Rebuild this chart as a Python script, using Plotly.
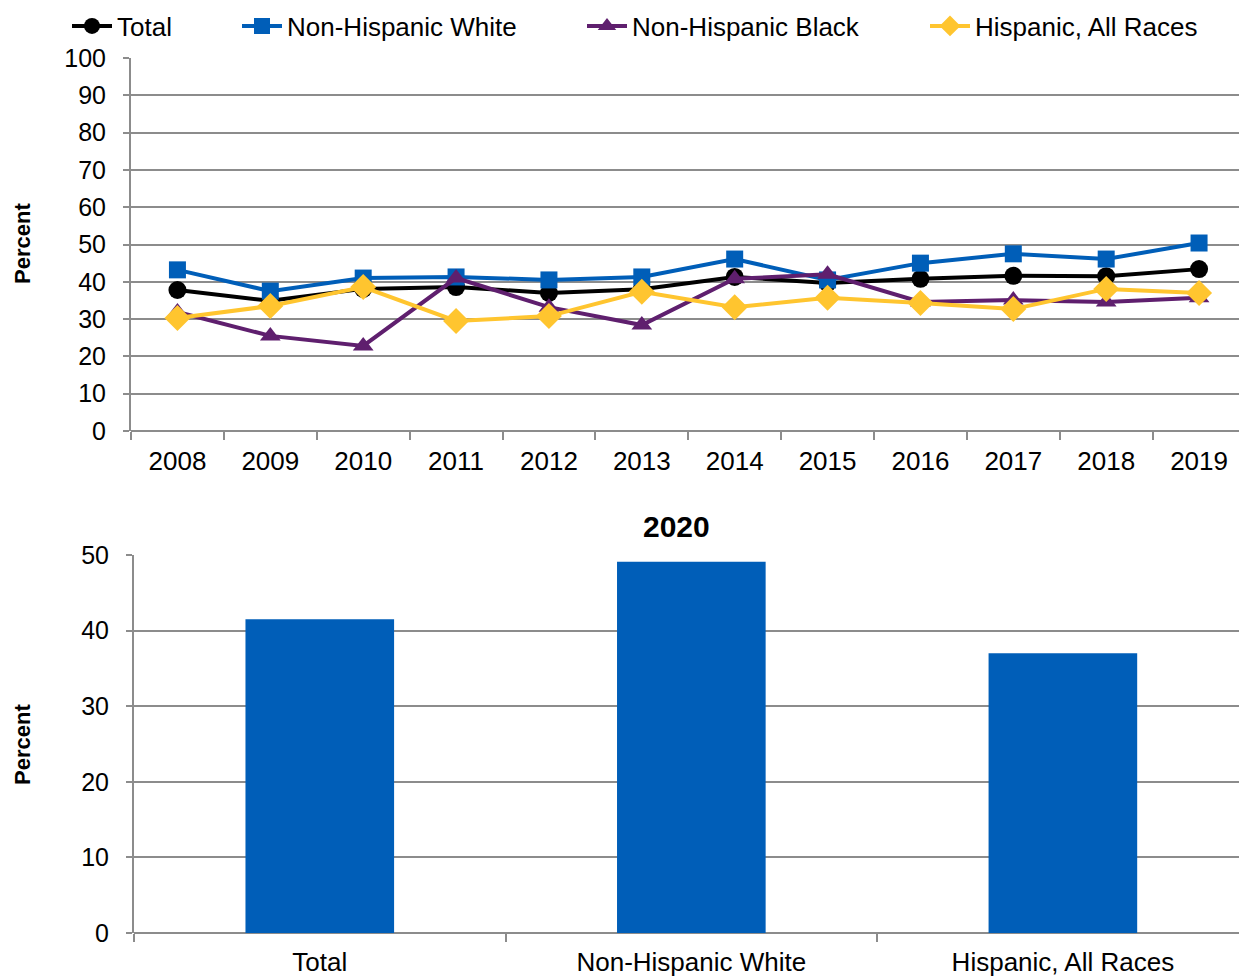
import plotly.graph_objects as go

years = ["2008", "2009", "2010", "2011", "2012", "2013", "2014", "2015", "2016", "2017", "2018", "2019"]
total = [37.8, 34.9, 38.1, 38.6, 37.0, 38.0, 41.3, 39.7, 40.8, 41.6, 41.5, 43.4]
nh_white = [43.2, 37.5, 41.0, 41.3, 40.5, 41.3, 46.1, 40.5, 45.0, 47.5, 46.1, 50.4]
nh_black = [31.9, 25.5, 22.8, 41.0, 33.2, 28.4, 40.8, 42.0, 34.6, 35.1, 34.6, 35.7]
hispanic = [30.3, 33.5, 38.6, 29.5, 30.8, 37.3, 33.2, 35.7, 34.3, 32.7, 38.1, 37.0]

bar_groups = ["Total", "Non-Hispanic White", "Hispanic, All Races"]
bar_values = [41.5, 49.1, 37.0]

W, H = 1239, 976
FONT = "Liberation Sans, Arial, sans-serif"
GRID = "#8c8c8c"

fig = go.Figure()

series = [
    ("Total", total, "#000000", "circle", 18, "legend"),
    ("Non-Hispanic White", nh_white, "#005EB8", "square", 17, "legend2"),
    ("Non-Hispanic Black", nh_black, "#5F1F6E", "triangle-up", 18, "legend3"),
    ("Hispanic, All Races", hispanic, "#FFC52F", "diamond", 20, "legend4"),
]
for name, vals, col, sym, sz, lg in series:
    fig.add_trace(go.Scatter(
        x=years, y=vals, name=name, mode="lines+markers",
        line=dict(color=col, width=4),
        marker=dict(color=col, symbol=sym, size=sz, line=dict(width=0)),
        xaxis="x", yaxis="y", legend=lg,
    ))

fig.add_trace(go.Bar(
    x=bar_groups, y=bar_values, marker=dict(color="#005EB8", line=dict(width=0)),
    width=0.4, showlegend=False, xaxis="x2", yaxis="y2",
))


def legend_at(text_start_px):
    return dict(
        orientation="h", x=(text_start_px - 51) / W, xanchor="left",
        y=1 - 26 / H, yanchor="middle",
        font=dict(size=26), itemwidth=40,
        bgcolor="rgba(0,0,0,0)",
    )


fig.update_layout(
    width=W, height=H,
    margin=dict(l=0, r=0, t=0, b=0, pad=0, autoexpand=False),
    paper_bgcolor="white", plot_bgcolor="white",
    font=dict(family=FONT, size=25, color="#000000"),
    showlegend=True,
    legend=legend_at(118),
    legend2=legend_at(288),
    legend3=legend_at(633),
    legend4=legend_at(976),
    xaxis=dict(
        domain=[131 / W, 1], anchor="y", type="category",
        range=[-0.5, 11.43], tickson="boundaries",
        ticks="outside", ticklen=8, tickwidth=2, tickcolor=GRID,
        showline=False, showgrid=False, zeroline=False,
        tickfont=dict(size=26), ticklabelstandoff=12, automargin=False,
    ),
    yaxis=dict(
        domain=[1 - 431 / H, 1 - 58 / H], anchor="x",
        range=[0, 100], tickvals=list(range(0, 101, 10)),
        showgrid=True, gridcolor=GRID, gridwidth=2,
        showline=True, linecolor=GRID, linewidth=2,
        ticks="outside", ticklen=6, tickwidth=2, tickcolor=GRID,
        zeroline=True, zerolinecolor=GRID, zerolinewidth=2,
        tickfont=dict(size=25), ticklabelstandoff=12, automargin=False,
    ),
    xaxis2=dict(
        domain=[134 / W, 1], anchor="y2", type="category",
        range=[-0.5, 2.474], tickson="boundaries",
        ticks="outside", ticklen=8, tickwidth=2, tickcolor=GRID,
        showline=False, showgrid=False, zeroline=False,
        tickfont=dict(size=26), ticklabelstandoff=11, automargin=False,
    ),
    yaxis2=dict(
        domain=[1 - 933 / H, 1 - 555 / H], anchor="x2",
        range=[0, 50], tickvals=list(range(0, 51, 10)),
        showgrid=True, gridcolor=GRID, gridwidth=2,
        showline=True, linecolor=GRID, linewidth=2,
        ticks="outside", ticklen=6, tickwidth=2, tickcolor=GRID,
        zeroline=True, zerolinecolor=GRID, zerolinewidth=2,
        tickfont=dict(size=25), ticklabelstandoff=12, automargin=False,
    ),
    annotations=[
        dict(text="<b>Percent</b>", x=22 / W, y=1 - 244 / H, xref="paper", yref="paper",
             textangle=-90, showarrow=False, font=dict(size=22), xanchor="center", yanchor="middle"),
        dict(text="<b>Percent</b>", x=22 / W, y=1 - 745 / H, xref="paper", yref="paper",
             textangle=-90, showarrow=False, font=dict(size=22), xanchor="center", yanchor="middle"),
        dict(text="<b>2020</b>", x=676 / W, y=1 - 526 / H, xref="paper", yref="paper",
             showarrow=False, font=dict(size=30), xanchor="center", yanchor="middle"),
    ],
)

fig.write_html(
    "out.html",
    config={"displayModeBar": False},
    post_script="document.body.style.margin='0';document.body.style.overflow='hidden';",
)
